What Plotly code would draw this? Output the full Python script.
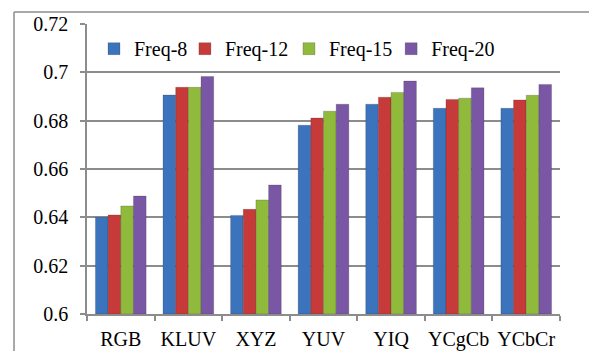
import plotly.graph_objects as go

categories = ["RGB", "KLUV", "XYZ", "YUV", "YIQ", "YCgCb", "YCbCr"]
freq_8 = [0.640, 0.6906, 0.6408, 0.6781, 0.6868, 0.6851, 0.6851]
freq_12 = [0.641, 0.6938, 0.6433, 0.6811, 0.6897, 0.6888, 0.6886]
freq_15 = [0.6447, 0.6938, 0.6472, 0.6839, 0.6917, 0.6893, 0.6905]
freq_20 = [0.6488, 0.6983, 0.6534, 0.6868, 0.6964, 0.6936, 0.6950]
series_names = ["Freq-8", "Freq-12", "Freq-15", "Freq-20"]
colors = ["#3B73BC", "#C63A3A", "#8FBA3C", "#7A57A4"]
y_ticks = [0.6, 0.62, 0.64, 0.66, 0.68, 0.7, 0.72]
y_tick_text = ["0.6", "0.62", "0.64", "0.66", "0.68", "0.7", "0.72"]
baseline = 0.6

font = "Liberation Serif"

# one legend box per series so each entry sits at its own spot in the top row
legend_ids = ["legend", "legend2", "legend3", "legend4"]
legend_x = [0.0148, 0.207, 0.427, 0.643]

fig = go.Figure()
for name, vals, col, lid in zip(series_names, [freq_8, freq_12, freq_15, freq_20], colors, legend_ids):
    # bars rise from the 0.6 baseline up to each value
    fig.add_trace(go.Bar(
        x=categories, y=[v - baseline for v in vals], base=baseline, name=name,
        marker=dict(color=col, line=dict(color="rgba(40,40,40,0.35)", width=0.6)),
        legend=lid,
    ))

legend_style = dict(
    orientation="h", y=0.915, xanchor="left", yanchor="middle",
    bgcolor="rgba(0,0,0,0)", font=dict(family=font, size=20),
    itemwidth=30,
)
layout_legends = {lid: dict(legend_style, x=lx) for lid, lx in zip(legend_ids, legend_x)}

fig.update_layout(
    width=589, height=351,
    margin=dict(l=87, r=29, t=24, b=37),
    paper_bgcolor="white", plot_bgcolor="white",
    barmode="group", bargap=0.25, bargroupgap=0.0,
    font=dict(family=font, size=20, color="black"),
    showlegend=True,
    **layout_legends,
)
fig.update_xaxes(
    showline=True, linecolor="#8c8c8c", linewidth=1.5,
    ticks="outside", tickson="boundaries", ticklen=5, tickcolor="#8c8c8c",
    tickwidth=1.5, showgrid=False, ticklabelstandoff=6,
    tickangle=0, automargin=False,
    tickfont=dict(family=font, size=20),
)
fig.update_yaxes(
    range=[0.6, 0.72], tickvals=y_ticks, ticktext=y_tick_text,
    showline=True, linecolor="#8c8c8c", linewidth=1.5,
    ticks="outside", ticklen=5, tickcolor="#8c8c8c", tickwidth=1.5,
    showgrid=True, gridcolor="#8c8c8c", gridwidth=1.5,
    zeroline=False, ticklabelstandoff=8, automargin=False,
    tickfont=dict(family=font, size=20),
)

# outer chart frame (left and top edges)
fig.add_shape(type="line", xref="paper", yref="paper",
              x0=-0.1543, x1=1.2, y0=1.0414, y1=1.0414,
              line=dict(color="#8c8c8c", width=1.5))
fig.add_shape(type="line", xref="paper", yref="paper",
              x0=-0.1543, x1=-0.1543, y0=-0.2, y1=1.0414,
              line=dict(color="#8c8c8c", width=1.5))

fig.write_html("out.html")
